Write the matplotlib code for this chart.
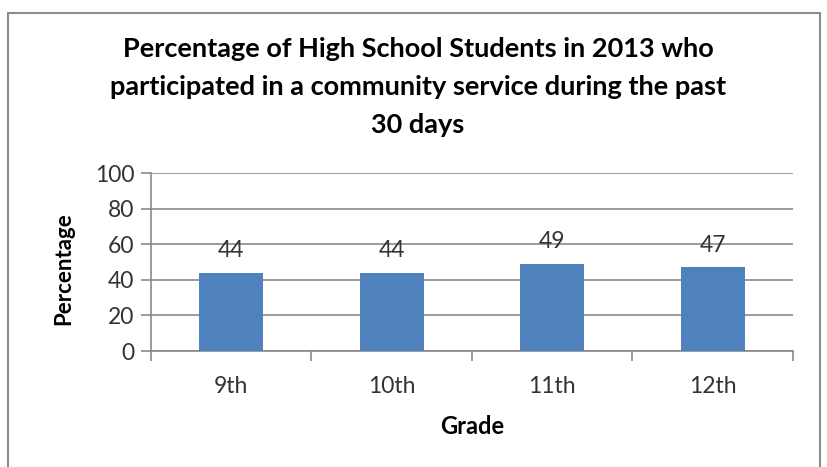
import numpy as np
import matplotlib.pyplot as plt
from matplotlib.patches import Rectangle

grades = ['9th', '10th', '11th', '12th']
percent = [44, 44, 49, 47]
yticks = [0, 20, 40, 60, 80, 100]

plt.rcParams['font.family'] = ['Lato', 'DejaVu Sans']

fig = plt.figure(figsize=(8.28, 4.67), dpi=100)
ax = fig.add_axes([151/828, 116/467, (793-151)/828, (351-173)/467])

# chart border
fig.patches.append(Rectangle((8/828, -0.05), 812/828, 1.05 - 13/467, transform=fig.transFigure,
                             fill=False, edgecolor='#8c8c8c', linewidth=1.5))

x = np.arange(len(grades))
bars = ax.bar(x, percent, width=0.4, color='#4f81bd', zorder=3)
for xi, v in zip(x, percent):
    ax.annotate(str(v), (xi, v), xytext=(0, 16), textcoords='offset points',
                ha='center', va='center', fontsize=16.5, color='#333333')

ax.set_xlim(-0.5, len(grades) - 0.5)
ax.set_ylim(0, 100)
ax.set_yticks(yticks)
ax.yaxis.grid(True, color='#8a8a8a', linewidth=1.2, zorder=0)
ax.set_axisbelow(True)

# category boundaries get the tick marks, labels sit at centres
ax.set_xticks(np.arange(len(grades) + 1) - 0.5)
ax.set_xticklabels([])
ax.set_xticks(x, minor=True)
ax.set_xticklabels(grades, minor=True, fontsize=16.5, color='#333333')
ax.tick_params(axis='x', which='major', length=7, color='#8a8a8a', width=1.2)
ax.tick_params(axis='x', which='minor', length=0, pad=18)
ax.tick_params(axis='y', length=7, color='#8a8a8a', width=1.2, labelsize=16.5,
               labelcolor='#333333', pad=5)

for s in ['top', 'right']:
    ax.spines[s].set_visible(False)
for s in ['left', 'bottom']:
    ax.spines[s].set_color('#8a8a8a')
    ax.spines[s].set_linewidth(1.2)

ax.set_xlabel('Grade', fontsize=17, fontweight='bold', labelpad=13)
ax.set_ylabel('Percentage', fontsize=16, fontweight='bold')
ax.yaxis.set_label_coords(-0.12, 0.46)

fig.text(418/828, 1 - 87/467,
         'Percentage of High School Students in 2013 who\nparticipated in a community service during the past\n30 days',
         ha='center', va='center', fontsize=19.5, fontweight='bold', linespacing=1.7)

plt.savefig('out.png', dpi=100)
